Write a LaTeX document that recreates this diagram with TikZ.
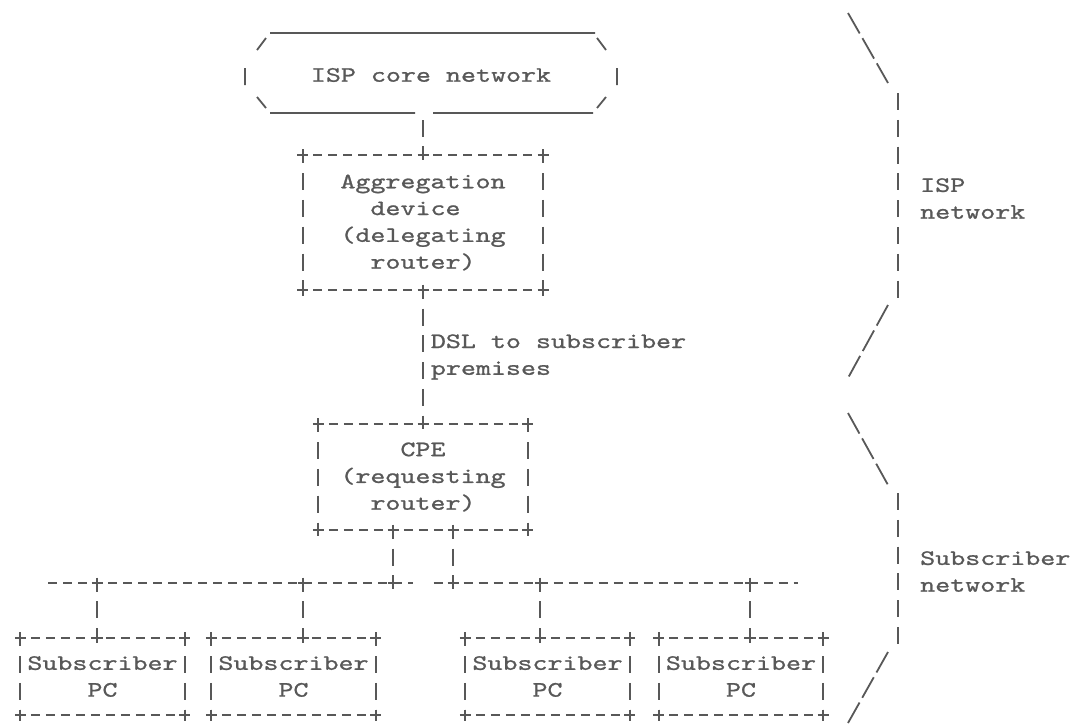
\documentclass[tikz,border=0pt]{standalone}
\usepackage{fontspec}
\setmonofont{lmmono10-regular.otf}[FakeStretch=1.3,FakeBold=1]
\usepackage{xcolor}
\usepackage{tikz}
\definecolor{ink}{RGB}{88,88,88}
\newcommand{\asciifont}{\fontsize{22}{26.8}\selectfont\ttfamily}

\begin{document}
\begin{tikzpicture}[
  x=1pt, y=-1pt,
  every node/.style={font=\asciifont, text=ink, inner sep=0pt},
  uline/.style={draw=ink, line width=1.8pt},
  hline/.style={uline, dash pattern=on 9pt off 6pt, dash phase=4.5pt},
  vline/.style={uline, dash pattern=on 17pt off 9.8pt, dash phase=8.5pt},
  sline/.style={uline, dash pattern=on 23.5pt off 5.5pt},
  pcbox/.style={minimum width=164pt, minimum height=77pt, align=center},
  crossmark/.pic={\draw[uline] (-5.5,0) -- (5.5,0) (0,-5.5) -- (0,5.5);}
]
\useasboundingbox (0,0) rectangle (1077,726);

\node[minimum width=372pt, minimum height=76pt] (core) at (431,75) {ISP core network};
\node[minimum width=240pt, minimum height=135pt, align=left] (agg) at (423,222.5)
  {Aggregation\\\hphantom{xx}device\\(delegating\\\hphantom{xx}router)};
\node[minimum width=209pt, minimum height=106pt, align=center] (cpe) at (423,477)
  {CPE\\(requesting\\router)};
\node[pcbox] (pc1) at (102.5,676.5) {Subscriber\\PC};
\node[pcbox] (pc2) at (293.5,676.5) {Subscriber\\PC};
\node[pcbox] (pc3) at (547.5,676.5) {Subscriber\\PC};
\node[pcbox] (pc4) at (741,676.5) {Subscriber\\PC};

\draw[uline] (270,33) -- (595,33)
  (270,113) -- (415,113) (433,113) -- (593,113)
  (257,50) -- (266,38) (257,97) -- (266,108)
  (597,38) -- (606,50) (606,97) -- (597,108)
  (245,68) -- (245,85) (617,68) -- (617,85);

\foreach \n in {agg,cpe,pc1,pc2,pc3,pc4}{
  \draw[hline] (\n.north west) -- (\n.north east) (\n.south west) -- (\n.south east);
  \draw[vline] (\n.north west) -- (\n.south west) (\n.north east) -- (\n.south east);
  \foreach \a in {north west,north east,south west,south east}
    \pic at (\n.\a) {crossmark};
}

\draw[vline] (agg.north) -- (agg.north |- core.south);
\draw[vline] (agg.south) -- (cpe.north)
  node[midway, right=7pt, align=left] (dsl) {DSL to subscriber\\premises};
\pic at (agg.north) {crossmark};
\pic at (agg.south) {crossmark};
\pic at (cpe.north) {crossmark};

\coordinate (cpel) at ([xshift=-30pt]cpe.south);
\coordinate (cper) at ([xshift=30pt]cpe.south);
\coordinate (busl) at (393,583);
\coordinate (busr) at (453,583);
\coordinate (lanl) at (48,583);
\coordinate (gapl) at (413,583);
\coordinate (gapr) at (433.5,583);
\coordinate (lanr) at (798,583);
\coordinate (t1) at (97,583);
\coordinate (t2) at (303,583);
\coordinate (t3) at (540,583);
\coordinate (t4) at (750,583);

\draw[vline] (cpel) -- (busl);
\draw[vline] (cper) -- (busr);
\draw[hline, dash phase=0pt] (lanl) -- (gapl);
\draw[hline, dash phase=0pt] (gapr) -- (lanr);
\foreach \p in {cpel,cper,busl,busr}
  \pic at (\p) {crossmark};
\foreach \t/\p in {t1/pc1,t2/pc2,t3/pc3,t4/pc4}{
  \draw[vline] (\t) -- (\t |- \p.north);
  \pic at (\t) {crossmark};
  \pic at (\t |- \p.north) {crossmark};
}

\draw[sline] (848,13) -- (888,83);
\draw[vline, dash phase=0pt] (898,93) -- (898,300);
\draw[sline] (888,305) -- (848,378);
\draw[sline] (848,413) -- (888,485);
\draw[vline, dash phase=0pt] (898,493) -- (898,647);
\draw[sline] (888,652) -- (848,723);

\node[anchor=west, align=left] (ispnet) at (920,198.5) {ISP\\network};
\node[anchor=west, align=left] (subnet) at (920,571.5) {Subscriber\\network};
\end{tikzpicture}
\end{document}
